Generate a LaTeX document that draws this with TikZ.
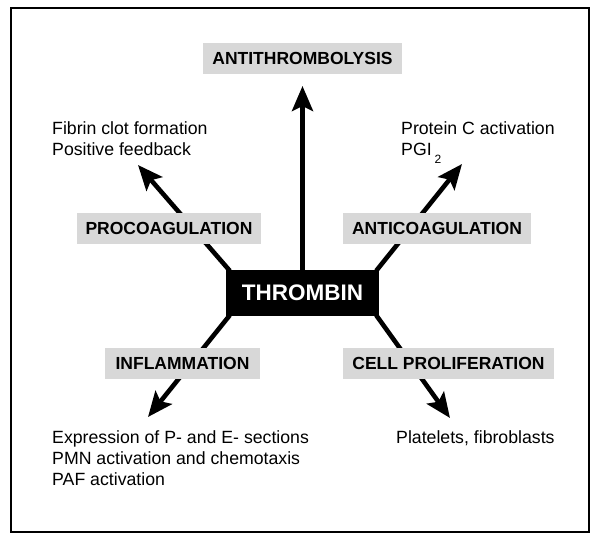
\documentclass[tikz,border=0pt]{standalone}
\usepackage{fontspec}
\setmainfont{Liberation Sans}
\usetikzlibrary{arrows.meta}
\definecolor{boxgray}{RGB}{216,216,216}
\begin{document}
\begin{tikzpicture}[x=1pt,y=-1pt,
  lbl/.style={fill=boxgray, font=\bfseries\fontsize{17.5}{20}\selectfont, inner sep=0pt, minimum height=31pt, anchor=center},
  txt/.style={font=\fontsize{17.7}{21}\selectfont, anchor=base west, inner sep=0pt},
  arr/.style={line width=4.6pt, -{Stealth[length=25pt,width=21pt,inset=5pt]}}]
\useasboundingbox (0,0) rectangle (600,544);
\draw[line width=2pt] (11,8) rectangle (589,532);
% central node
\node[fill=black, text=white, font=\bfseries\fontsize{22.5}{26}\selectfont, minimum width=153pt, minimum height=46pt, inner sep=0pt] (thr) at (302.5,293) {THROMBIN};
% arrow tips
\coordinate (tipN) at (302.5,86);
\coordinate (tipNW) at (138,165);
\coordinate (tipNE) at (462,164);
\coordinate (tipSW) at (148,417);
\coordinate (tipSE) at (450,418);
\draw[arr] (thr.north) -- (tipN);
\draw[arr] ([xshift=4pt,yshift=-1pt]thr.north west) -- (tipNW);
\draw[arr] ([xshift=-3pt,yshift=-1pt]thr.north east) -- (tipNE);
\draw[arr] ([xshift=4pt,yshift=1pt]thr.south west) -- (tipSW);
\draw[arr] ([xshift=-3pt,yshift=1pt]thr.south east) -- (tipSE);
% labels
\node[lbl, minimum width=199pt] (anti) at (302.5,58.5) {ANTITHROMBOLYSIS};
\node[lbl, minimum width=184pt] (pro) at (169,228) {PROCOAGULATION};
\node[lbl, minimum width=188pt] (antic) at (437,228.5) {ANTICOAGULATION};
\node[lbl, minimum width=155pt] (infl) at (182.5,363.5) {INFLAMMATION};
\node[lbl, minimum width=211pt] (cell) at (448.5,363.5) {CELL PROLIFERATION};
% texts
\node[txt] (f1) at (52,134) {Fibrin clot formation};
\node[txt] (f2) at (52,155) {Positive feedback};
\node[txt] (p1) at (401,134) {Protein C activation};
\node[txt] (p2) at (401,155) {PGI\,\raisebox{-8pt}{\fontsize{12}{14}\selectfont 2}};
\node[txt] (e1) at (52,443) {Expression of P- and E- sections};
\node[txt] (e2) at (52,464) {PMN activation and chemotaxis};
\node[txt] (e3) at (52,485) {PAF activation};
\node[txt] (pl) at (396,443) {Platelets, fibroblasts};
\end{tikzpicture}
\end{document}
